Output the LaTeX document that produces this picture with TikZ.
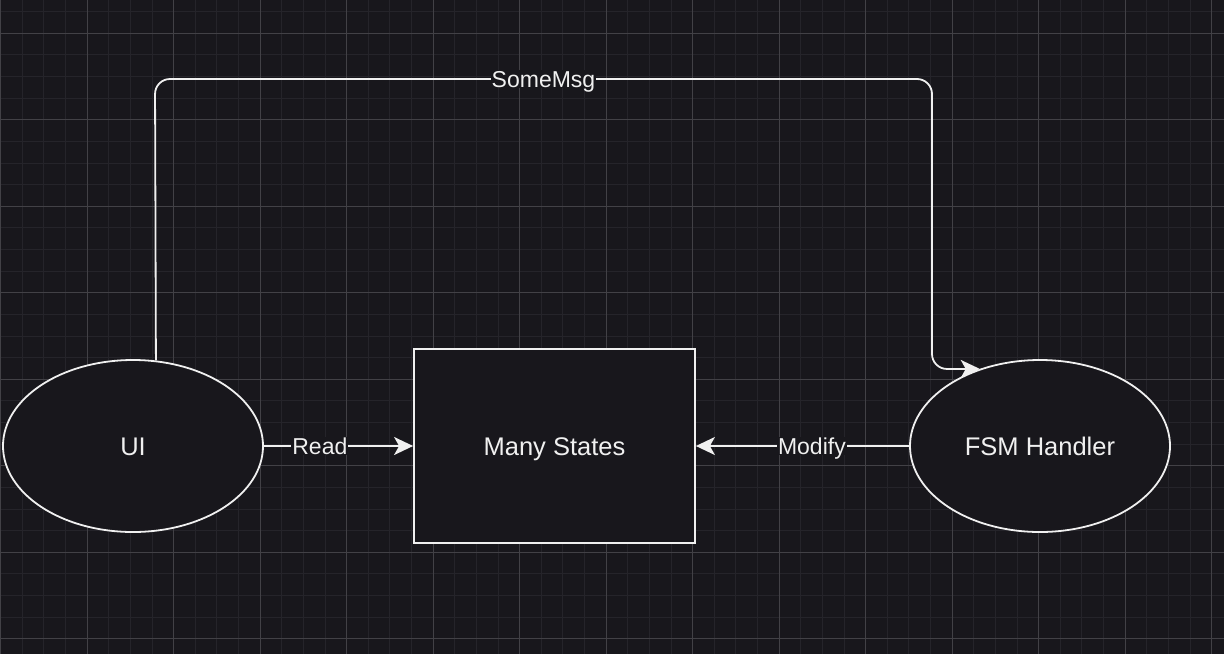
\documentclass[tikz,border=0pt]{standalone}
\usepackage{fontspec}
\setmainfont{Liberation Sans}
\usetikzlibrary{shapes.geometric,arrows.meta}
\definecolor{bg}{RGB}{24,23,28}
\definecolor{gminor}{RGB}{37,36,42}
\definecolor{gmajor}{RGB}{66,65,70}
\definecolor{fg}{RGB}{240,240,240}
\tikzset{
  ell/.style={ellipse, draw=fg, fill=bg, line width=1.8pt, minimum width=260pt, minimum height=172pt, inner sep=0pt, text=fg, font=\fontsize{25.5}{30}\selectfont, text height=18.3pt, text depth=0pt},
  statebox/.style={rectangle, draw=fg, fill=bg, line width=1.8pt, minimum width=281pt, minimum height=194pt, inner sep=0pt, text=fg, font=\fontsize{25.5}{30}\selectfont, text height=18.3pt, text depth=0pt},
  conn/.style={draw=fg, line width=1.8pt, -{Stealth[length=19pt,width=18pt,inset=5pt]}},
  lbl/.style={fill=bg, text=fg, inner sep=1pt, font=\fontsize{23}{27}\selectfont, text height=16.5pt, text depth=0pt},
}
\begin{document}
\begin{tikzpicture}[x=1pt,y=-1pt]
\fill[bg] (0,0) rectangle (1224,654);
\useasboundingbox (0,0) rectangle (1224,654);
% minor grid
\foreach \i in {0,...,57} {
  \draw[gminor, line width=1pt] ({0.7+21.625*\i},0) -- ({0.7+21.625*\i},654);
}
\foreach \j in {0,...,30} {
  \draw[gminor, line width=1pt] (0,{11.7+21.625*\j}) -- (1224,{11.7+21.625*\j});
}
% major grid
\foreach \i in {0,...,14} {
  \draw[gmajor, line width=1pt] ({0.7+86.5*\i},0) -- ({0.7+86.5*\i},654);
}
\foreach \j in {0,...,7} {
  \draw[gmajor, line width=1pt] (0,{33.3+86.5*\j}) -- (1224,{33.3+86.5*\j});
}
% nodes
\node[ell] (ui) at (133,446) {UI};
\node[statebox] (ms) at (554.5,446) {Many States};
\node[ell] (fsm) at (1040,446) {FSM Handler};
% connectors
\draw[conn] (ui.east) -- node[lbl, pos=0.375] {Read} (ms.west);
\draw[conn] (fsm.west) -- node[lbl, pos=0.456] {Modify} (ms.east);
\coordinate (tl) at (155,79);
\coordinate (tr) at (932,79);
\coordinate (br) at (932,369);
\draw[conn, rounded corners=15pt] (ui.75.5) -- (tl) -- node[lbl, rounded corners=0pt] {SomeMsg} (tr) -- (br) -- (fsm.128);
\end{tikzpicture}
\end{document}
